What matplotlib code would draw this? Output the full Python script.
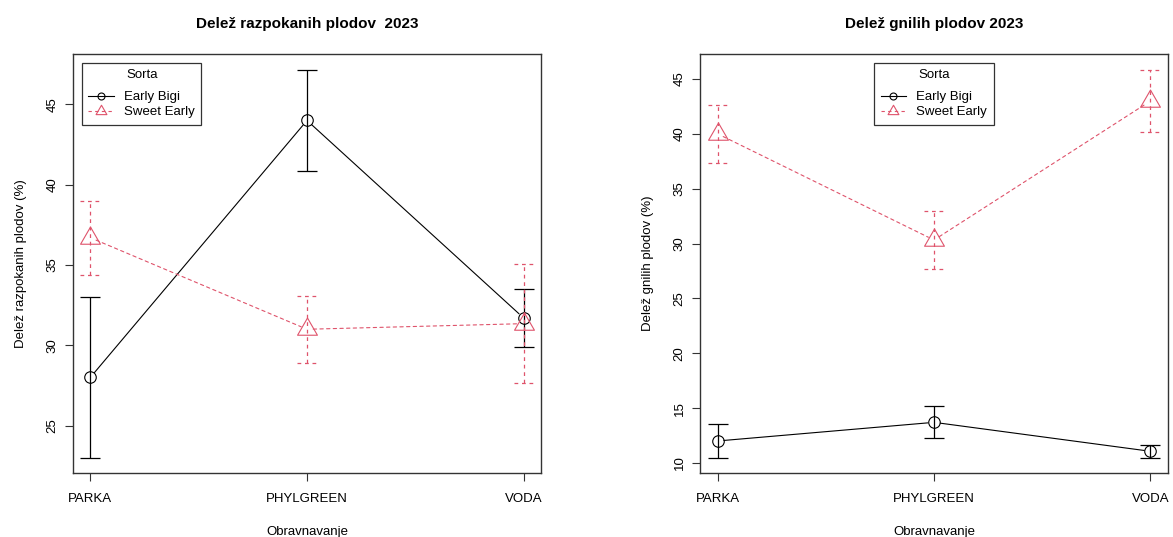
import numpy as np
import matplotlib
matplotlib.use("Agg")
import matplotlib.pyplot as plt
from matplotlib.lines import Line2D
from matplotlib.path import Path

plt.rcParams['font.family'] = ['Liberation Sans', 'DejaVu Sans']

categories = ["PARKA", "PHYLGREEN", "VODA"]
series_names = ["Early Bigi", "Sweet Early"]

# Panel 1: Delež razpokanih plodov
crack_early_bigi = [28.0, 44.0, 31.7]
crack_early_bigi_err = [5.0, 3.17, 1.78]
crack_sweet_early = [36.7, 31.0, 31.35]
crack_sweet_early_err = [2.3, 2.1, 3.7]

# Panel 2: Delež gnilih plodov
rot_early_bigi = [12.0, 13.7, 11.06]
rot_early_bigi_err = [1.53, 1.45, 0.58]
rot_sweet_early = [40.0, 30.32, 42.99]
rot_sweet_early_err = [2.67, 2.61, 2.87]

titles = ["Delež razpokanih plodov  2023", "Delež gnilih plodov 2023"]
ylabels = ["Delež razpokanih plodov (%)", "Delež gnilih plodov (%)"]
xlabel = "Obravnavanje"
legend_title = "Sorta"
yticks = [[25, 30, 35, 40, 45], [10, 15, 20, 25, 30, 35, 40, 45]]

BLACK = "black"
PINK = "#DF536B"

# equilateral triangle centred at centroid (like R pch=2)
tri = Path([(0, 1.0), (-0.866, -0.5), (0.866, -0.5), (0, 1.0)],
           [Path.MOVETO, Path.LINETO, Path.LINETO, Path.CLOSEPOLY])

fig = plt.figure(figsize=(11.73, 5.37), dpi=100)
W, H = 1173, 537
axes_px = [(73, 541), (700.3, 1167.7)]
top_px, bot_px = 54, 473.3

panels = [
    (crack_early_bigi, crack_early_bigi_err, crack_sweet_early, crack_sweet_early_err),
    (rot_early_bigi, rot_early_bigi_err, rot_sweet_early, rot_sweet_early_err),
]

cap_hw = 0.046

for i, (eb, eb_err, se, se_err) in enumerate(panels):
    x0, x1 = axes_px[i]
    ax = fig.add_axes([x0 / W, 1 - bot_px / H, (x1 - x0) / W, (bot_px - top_px) / H])
    x = np.arange(1, len(categories) + 1)

    specs = [
        (eb, eb_err, BLACK, '-', 'o', 8.3, series_names[0]),
        (se, se_err, PINK, (0, (3, 3)), tri, 16.5, series_names[1]),
    ]
    all_lo, all_hi = [], []
    for vals, errs, col, ls, mk, ms, name in specs:
        vals = np.array(vals); errs = np.array(errs)
        lo, hi = vals - errs, vals + errs
        all_lo.extend(lo); all_hi.extend(hi)
        # lines with gaps around points (type="b")
        for k in range(len(x) - 1):
            ax.annotate('', xy=(x[k + 1], vals[k + 1]), xytext=(x[k], vals[k]),
                        arrowprops=dict(arrowstyle='-', color=col, lw=0.8,
                                        linestyle=ls, shrinkA=4.5, shrinkB=4.5))
        ax.plot(x, vals, linestyle='none', marker=mk, markersize=ms,
                markerfacecolor='none', markeredgecolor=col, markeredgewidth=0.8)
        # error bars
        ax.vlines(x, lo, hi, colors=col, linestyles=ls, lw=0.9)
        ax.hlines(lo, x - cap_hw, x + cap_hw, colors=col, linestyles=ls, lw=0.9)
        ax.hlines(hi, x - cap_hw, x + cap_hw, colors=col, linestyles=ls, lw=0.9)

    ymin, ymax = min(all_lo), max(all_hi)
    pad = 0.04 * (ymax - ymin)
    ax.set_ylim(ymin - pad, ymax + pad)
    ax.set_xlim(1 - 0.04 * 2, 3 + 0.04 * 2)

    ax.set_xticks(x)
    ax.set_xticklabels(categories)
    ax.set_yticks(yticks[i])
    ax.set_yticklabels([str(t) for t in yticks[i]], rotation=90, va='center')
    ax.tick_params(axis='both', direction='out', length=6, width=0.8,
                   labelsize=9.5, color='#333333')
    ax.tick_params(axis='x', pad=8)
    ax.tick_params(axis='y', pad=4.5)
    for sp in ax.spines.values():
        sp.set_linewidth(1.0)
        sp.set_color('#333333')

    ax.set_title(titles[i], fontsize=11, fontweight='bold', pad=19)
    ax.set_xlabel(xlabel, fontsize=9.5, labelpad=15.5)
    ax.set_ylabel(ylabels[i], fontsize=9.5, labelpad=14)

    handles = [
        Line2D([], [], color=BLACK, lw=0.8, marker='o', markersize=5,
               markerfacecolor='none', markeredgewidth=0.8),
        Line2D([], [], color=PINK, lw=0.8, linestyle=(0, (3, 3)), marker=tri,
               markersize=9, markerfacecolor='none', markeredgewidth=0.8),
    ]
    if i == 0:
        loc, anchor = 'upper left', (0.019, 0.979)
    else:
        loc, anchor = 'upper center', (0.5, 0.979)
    leg = ax.legend(handles, series_names, title=legend_title, loc=loc,
                    bbox_to_anchor=anchor, fontsize=9.5, title_fontsize=9.5,
                    fancybox=False, framealpha=1, edgecolor='#333333',
                    borderpad=0.5, labelspacing=0.2, handlelength=1.9,
                    handletextpad=0.8, borderaxespad=0)
    leg._legend_box.sep = 7
    leg.get_frame().set_linewidth(0.9)

fig.savefig("out.png", dpi=100)
